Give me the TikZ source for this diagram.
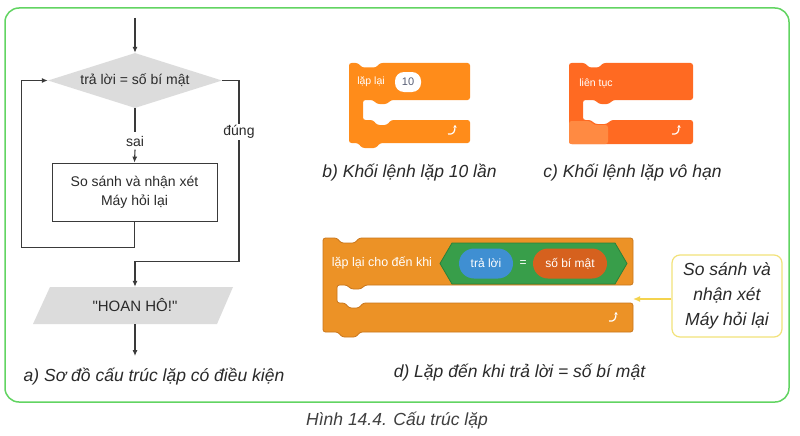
\documentclass[tikz,border=0pt]{standalone}
\usepackage{fontspec}
\setmainfont{Liberation Sans}[Ligatures=TeXOff]
\usetikzlibrary{arrows.meta,shapes.geometric}
\definecolor{framegreen}{HTML}{62D462}
\definecolor{txt}{HTML}{2A2A2A}
\definecolor{linec}{HTML}{3A3A3A}
\definecolor{grayfill}{HTML}{DCDCDC}
\definecolor{blkb}{HTML}{FF8C1A}
\definecolor{blkc}{HTML}{FF6A22}
\definecolor{blkclight}{HTML}{FF8A42}
\definecolor{blkd}{HTML}{EC9226}
\definecolor{blkdedge}{HTML}{C9761C}
\definecolor{hexg}{HTML}{389E4A}
\definecolor{hexedge}{HTML}{2B8039}
\definecolor{pillblue}{HTML}{3F8FD2}
\definecolor{pillred}{HTML}{D6611E}
\definecolor{noteline}{HTML}{F2E27A}
\definecolor{notearrow}{HTML}{F4D34E}
\definecolor{pilltxt}{HTML}{575E75}
\tikzset{
  fc/.style={font=\fontsize{14}{19}\selectfont, text=txt},
  capt/.style={font=\fontsize{17.5}{21}\selectfont\itshape, text=txt},
  arr/.style={draw=linec, line width=1.1pt, -{Latex[length=6pt,width=5pt]}},
  ln/.style={draw=linec, line width=1.1pt},
  blktxt/.style={text=white, font=\fontsize{10.5}{12}\selectfont},
  retarrow/.style={draw=white, line width=1.2pt, -{Stealth[length=2.5pt,width=3.5pt]}},
}
\begin{document}
\begin{tikzpicture}[x=1pt,y=-1pt]
\useasboundingbox (0,0) rectangle (800,436);
\fill[white] (0,0) rectangle (800,436);
% frame
\draw[framegreen, line width=1.5pt, rounded corners=14] (5,8) rectangle (789,402);

% ---------- flowchart ----------
\coordinate (start) at (135,18);
\node[diamond, fill=grayfill, minimum width=174, minimum height=55, aspect=3.16, inner sep=0, fc] (cond) at (135,80.5) {trả lời = số bí mật};
\node[fc] (sai) at (135,141) {sai};
\node[draw=linec, line width=0.8pt, fill=white, minimum width=165, minimum height=58, align=center, fc] (cmp) at (134.5,192) {So sánh và nhận xét\\Máy hỏi lại};
\node[fc, fill=white, inner sep=1.5] (dung) at (239,132) {đúng};
\fill[grayfill] (50,287) -- (233,287) -- (217,324) -- (33,324) -- cycle;
\node[minimum height=37, minimum width=150, text=txt, font=\fontsize{15}{18}\selectfont] (hoan) at (135,305.5) {"HOAN HÔ!"};
\coordinate (fin) at (135,356);

\draw[arr] (start) -- (cond.north);
\draw[ln] (cond.south) -- (sai.north);
\draw[arr] (sai.south) -- (cmp.north);
\draw[arr] (cmp.south) -- ++(0,26) -| ([xshift=-26pt]cond.west) -- (cond.west);
\draw[ln] (cond.east) -| (dung.north);
\draw[arr] (dung.south) |- ([yshift=25pt]hoan.north) -- (hoan.north);
\draw[arr] (hoan.south) -- (fin);

\node[capt] (capa) at (154,377) {a) Sơ đồ cấu trúc lặp có điều kiện};

% ---------- block b: repeat 10 ----------
\fill[blkb, rounded corners=2.5] (349,63) -- (358,63) -- (362,67.5) -- (376,67.5) -- (380,63) -- (470,63) -- (470,100) -- (391,100) -- (387,104) -- (377,104) -- (373,100) -- (363,100) -- (363,120) -- (373,120) -- (377,125) -- (387,125) -- (391,120) -- (470,120) -- (470,143) -- (380,143) -- (376,148) -- (362,148) -- (358,143) -- (349,143) -- cycle;
\node[blktxt] (lbl-b) at (371,82) {lặp lại};
\node[fill=white, rounded corners=9, minimum width=26, minimum height=20, inner sep=0, text=pilltxt, font=\fontsize{11}{12}\selectfont] (ten) at (408,82) {10};
\draw[retarrow] (448,134) .. controls (454,135) and (455,131) .. (455,125);
\node[capt] (capb) at (409.5,173) {b) Khối lệnh lặp 10 lần};

% ---------- block c: forever ----------
\fill[blkc, rounded corners=2.5] (569,63) -- (585,63) -- (589,67.5) -- (599,67.5) -- (603,63) -- (693,63) -- (693,100) -- (613,100) -- (609,104) -- (599,104) -- (595,100) -- (583,100) -- (583,120) -- (591,120) -- (595,124) -- (607,124) -- (611,120) -- (693,120) -- (693,144) -- (569,144) -- cycle;
\fill[blkclight, rounded corners=2.5] (569,121) -- (590,121) -- (594,125) -- (608,125) -- (608,144) -- (569,144) -- cycle;
\node[blktxt] (lbl-c) at (596,83) {liên tục};
\draw[retarrow] (672,134) .. controls (678,135) and (679,131) .. (679,125);
\node[capt] (capc) at (632.5,173) {c) Khối lệnh lặp vô hạn};

% ---------- block d: repeat until ----------
\filldraw[fill=blkd, draw=blkdedge, line width=0.8pt, rounded corners=2.5] (323,238) -- (337,238) -- (341,243) -- (355,243) -- (359,238) -- (633,238) -- (633,285) -- (365,285) -- (361,289) -- (351,289) -- (347,285) -- (337,285) -- (337,303) -- (345,303) -- (349,308) -- (359,308) -- (363,303) -- (633,303) -- (633,332) -- (360,332) -- (356,337) -- (342,337) -- (338,332) -- (323,332) -- cycle;
\node[text=white, font=\fontsize{12.5}{14}\selectfont] (lbl-d) at (382,263) {lặp lại cho đến khi};
\filldraw[fill=hexg, draw=hexedge, line width=0.8pt] (440,263.5) -- (452,243) -- (615,243) -- (627,263.5) -- (615,284) -- (452,284) -- cycle;
\node[fill=pillblue, rounded corners=15, minimum width=54, minimum height=30, inner sep=0, text=white, font=\fontsize{12}{14}\selectfont] (ans) at (486,263.5) {trả lời};
\node[text=white, font=\fontsize{12}{14}\selectfont] (eq) at (523,263.5) {=};
\node[fill=pillred, rounded corners=15, minimum width=74, minimum height=30, inner sep=0, text=white, font=\fontsize{12}{14}\selectfont] (secret) at (570,263.5) {số bí mật};
\draw[retarrow] (609,321) .. controls (615,322) and (616,318) .. (616,312);
\node[capt] (capd) at (519.5,373) {d) Lặp đến khi trả lời = số bí mật};

% ---------- callout ----------
\node[draw=noteline, line width=1.2pt, fill=white, rounded corners=8, minimum width=110, minimum height=82, align=center, text=txt, font=\fontsize{17.5}{25}\selectfont\itshape] (note) at (727,296) {So sánh và\\nhận xét\\Máy hỏi lại};
\coordinate (mouth) at (633,299);
\draw[draw=notearrow, line width=1.5pt, -{Latex[length=7pt,width=6pt]}] ([yshift=-3pt]note.west) -- (mouth);

% ---------- figure caption ----------
\node[text=txt!90, font=\fontsize{17.5}{21}\selectfont\itshape] (fig) at (397,421) {Hình 14.4. Cấu trúc lặp};
\end{tikzpicture}
\end{document}
